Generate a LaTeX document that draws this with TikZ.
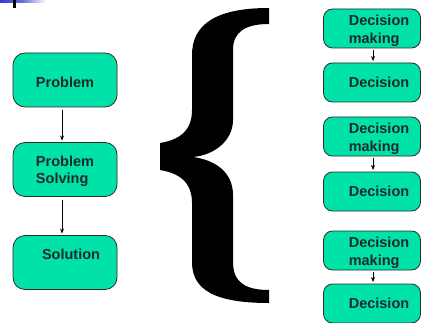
\documentclass[tikz,border=0pt]{standalone}
\usepackage{fontspec}
\setmainfont{Liberation Sans}
\usetikzlibrary{arrows.meta}
\definecolor{boxfill}{RGB}{0,226,168}
\definecolor{boxtext}{RGB}{30,42,42}
\definecolor{boxline}{RGB}{40,44,44}
\definecolor{barblue}{RGB}{52,52,208}
\newcommand\dnstrut[1]{\rule{0pt}{#1}}
\tikzset{
  bigbox/.style={draw=boxline, line width=0.8pt, fill=boxfill, rounded corners=12pt,
    minimum width=104pt, minimum height=54pt, inner sep=0pt, outer sep=0pt,
    text=boxtext, font=\fontsize{14.5}{17}\selectfont\bfseries, align=left},
  smallbox/.style={draw=boxline, line width=0.8pt, fill=boxfill, rounded corners=9pt,
    minimum width=97pt, minimum height=39pt, inner sep=0pt, outer sep=0pt,
    text=boxtext, font=\fontsize{14.5}{18}\selectfont\bfseries, align=left},
  arr/.style={draw=black, line width=0.7pt, -{Stealth[length=5pt,width=4pt]}}
}
\begin{document}
\begin{tikzpicture}[x=1pt,y=-1pt]
\useasboundingbox (0,0) rectangle (422,323);
% top-left decoration
\shade[left color=barblue, right color=white, middle color=barblue!70] (0,0) rectangle (46,3);
\fill[black] (13,0) rectangle (15.5,8);
% left column
\node[bigbox] (p) at (65,80) {\dnstrut{16pt}Problem};
\node[bigbox] (ps) at (65,169.5) {\dnstrut{14.5pt}Problem\\Solving};
\node[bigbox] (s) at (65,262.5) {\hspace*{12pt}Solution\\\mbox{}};
\draw[arr, shorten <=3pt, shorten >=2pt] ([xshift=-3pt]p.south) -- ([xshift=-3pt]ps.north);
\draw[arr, shorten <=3pt, shorten >=2pt] ([xshift=-3pt]ps.south) -- ([xshift=-3pt]s.north);
% brace
\fill[black] (269,8) .. controls (215,8) and (192,25) .. (192,55)
  -- (192,110)
  .. controls (192,132) and (178,140) .. (160,143)
  -- (160,170)
  .. controls (178,173) and (192,181) .. (192,203)
  -- (192,262)
  .. controls (192,290) and (215,303) .. (269,303)
  -- (269,290)
  .. controls (245,290) and (233,282) .. (233,262)
  -- (233,195)
  .. controls (233,172) and (215,160) .. (193,157)
  .. controls (215,155) and (233,140) .. (233,120)
  -- (233,50)
  .. controls (233,32) and (245,24) .. (269,24)
  -- cycle;
% right column
\node[smallbox] (d1) at (372,28.5) {\dnstrut{14.5pt}\hspace*{14pt}Decision\\\hspace*{14pt}making};
\node[smallbox] (d2) at (372,82.5) {\hspace*{14pt}Decision};
\node[smallbox] (d3) at (372,136.5) {\dnstrut{14.5pt}\hspace*{14pt}Decision\\\hspace*{14pt}making};
\node[smallbox] (d4) at (372,191.5) {\hspace*{14pt}Decision};
\node[smallbox] (d5) at (372,250.5) {\dnstrut{14.5pt}\hspace*{14pt}Decision\\\hspace*{14pt}making};
\node[smallbox] (d6) at (372,303.5) {\hspace*{14pt}Decision};
\draw[arr, shorten <=2pt, shorten >=2pt] ([xshift=1pt]d1.south) -- ([xshift=1pt]d2.north);
\draw[arr, shorten <=2pt, shorten >=2pt] ([xshift=1pt]d3.south) -- ([xshift=1pt]d4.north);
\draw[arr, shorten <=2pt, shorten >=2pt] ([xshift=1pt]d5.south) -- ([xshift=1pt]d6.north);
\end{tikzpicture}
\end{document}
